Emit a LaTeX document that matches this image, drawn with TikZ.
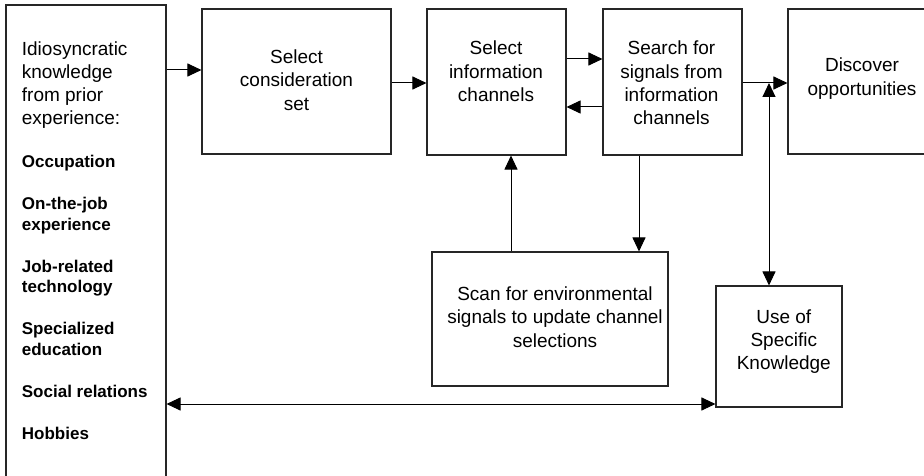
\documentclass[tikz,border=0pt]{standalone}
\usepackage{fontspec}
\setmainfont{Liberation Sans}
\usetikzlibrary{arrows.meta}

\begin{document}
\begin{tikzpicture}[x=1pt,y=-1pt,
  stagebox/.style={draw=black!85,line width=1.1pt,rectangle,inner sep=0pt},
  lbl/.style={inner sep=0pt,align=center,font=\fontsize{19}{23.3}\selectfont},
  arr/.style={line width=1pt,-{Triangle[length=14pt,width=13pt]}},
  biarr/.style={line width=1pt,{Triangle[length=14pt,width=13pt]}-{Triangle[length=14pt,width=13pt]}}]

\useasboundingbox (0,0) rectangle (924,476);
\fill[white] (0,0) rectangle (924,476);
\clip (0,0) rectangle (924,476);

% boxes
\node[stagebox,minimum width=160pt,minimum height=515pt] (know) at (86,262.5) {};
\node[stagebox,minimum width=189pt,minimum height=145pt] (cons) at (296.5,81.5) {};
\node[stagebox,minimum width=139pt,minimum height=146pt] (info) at (496.5,82) {};
\node[stagebox,minimum width=139pt,minimum height=146pt] (search) at (672.5,82) {};
\node[stagebox,minimum width=152pt,minimum height=145pt] (disc) at (864,81.5) {};
\node[stagebox,minimum width=236pt,minimum height=134pt] (scan) at (550,319) {};
\node[stagebox,minimum width=126pt,minimum height=121pt] (use) at (779,346.5) {};

% labels
\node[inner sep=0pt,anchor=north west,align=left,font=\fontsize{19}{23.3}\selectfont] (knowhead) at (21.7,41.1)
  {Idiosyncratic\\knowledge\\from prior\\experience:};
\node[inner sep=0pt,anchor=north west,align=left,font=\fontsize{17}{20.5}\selectfont\bfseries] (knowlist) at (21.7,155.4)
  {Occupation\\[21.5pt]On-the-job\\experience\\[21.5pt]Job-related\\technology\\[21.5pt]Specialized\\education\\[21.5pt]Social relations\\[21.5pt]Hobbies};
\node[lbl] (consl) at (296.5,80) {Select\\consideration\\set};
\node[lbl] (infol) at (496,71.4) {Select\\information\\channels};
\node[lbl] (searchl) at (671.5,83) {Search for\\signals from\\information\\channels};
\node[lbl] (discl) at (862,78.7) {Discover\\opportunities};
\node[lbl] (scanl) at (555,317) {Scan for environmental\\signals to update channel\\selections};
\node[lbl] (usel) at (783.8,341.4) {Use of\\Specific\\Knowledge};

% connectors
\coordinate (join) at (769,83);
\draw[arr] (know.east |- 0,70) -- (cons.west |- 0,70);
\draw[arr] (cons.east |- 0,83) -- (info.west |- 0,83);
\draw[arr] (info.east |- 0,59) -- (search.west |- 0,59);
\draw[arr] (search.west |- 0,107) -- (info.east |- 0,107);
\draw[arr] (search.east |- join) -- (disc.west |- join);
\draw[biarr] (use.north -| join) -- (join);
\draw[arr] (scan.north -| 511,0) -- (info.south -| 511,0);
\draw[arr] (search.south -| 639,0) -- (scan.north -| 639,0);
\draw[biarr] (know.east |- 0,404) -- (use.west |- 0,404);
\end{tikzpicture}
\end{document}
